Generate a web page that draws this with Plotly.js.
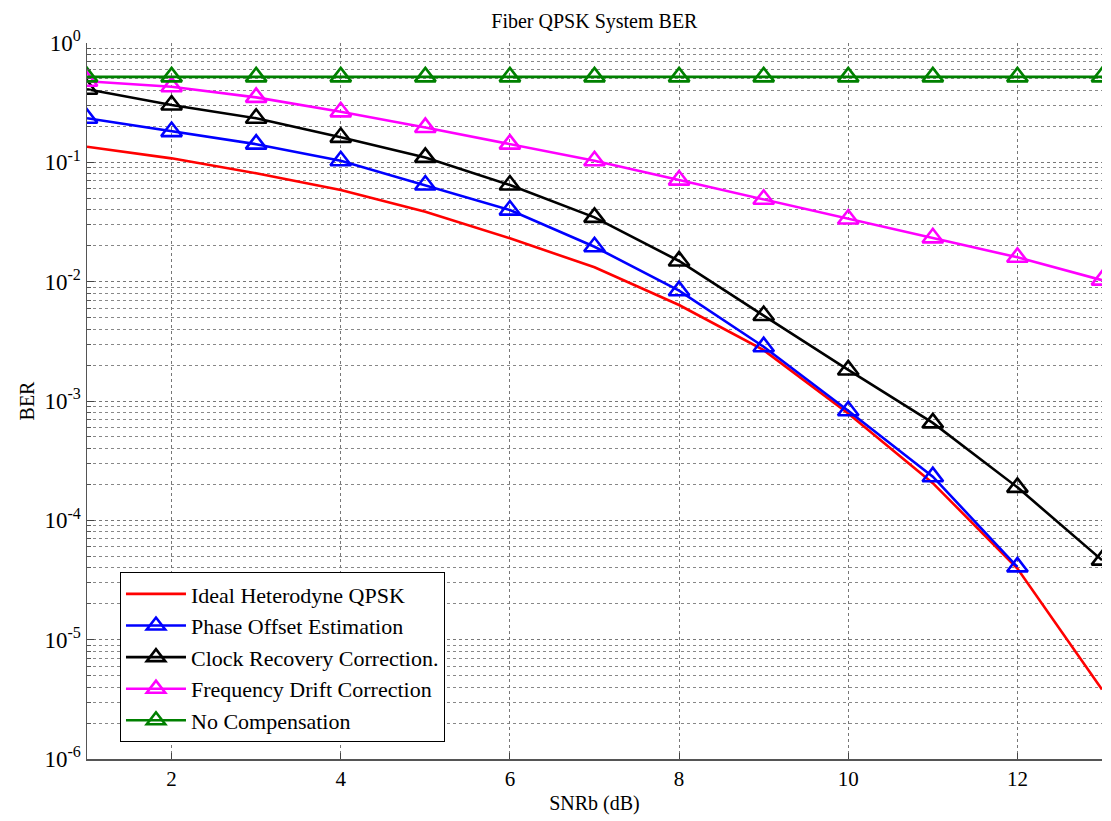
<!DOCTYPE html>
<html>
<head>
<meta charset="utf-8">
<script src="https://cdn.plot.ly/plotly-3.0.1.min.js"></script>
<style>html,body{margin:0;padding:0;background:#fff;}#chart{width:1111px;height:821px;}</style>
</head>
<body>
<div id="chart"></div>
<script>
const snr = [1,2,3,4,5,6,7,8,9,10,11,12,13];
const snrPhase = [1,2,3,4,5,6,7,8,9,10,11,12];
const berIdeal = [0.135,0.108,0.081,0.0586,0.0385,0.0231,0.0132,0.00637,0.00267,7.87e-4,2.05e-4,3.95e-5,3.83e-6];
const berPhase = [0.234,0.181,0.142,0.103,0.0645,0.0398,0.0196,0.0084,0.00285,8.28e-4,2.32e-4,4.07e-5];
const berClock = [0.41,0.302,0.234,0.162,0.110,0.0645,0.0346,0.0149,0.0052,0.00182,6.56e-4,1.89e-4,4.64e-5];
const berFreq = [0.478,0.43,0.35,0.265,0.196,0.142,0.103,0.071,0.049,0.0335,0.0233,0.016,0.0103];
const berNone = [0.52,0.52,0.52,0.52,0.52,0.52,0.52,0.52,0.52,0.52,0.52,0.52,0.52];
const names = ['Ideal Heterodyne QPSK','Phase Offset Estimation','Clock Recovery Correction.','Frequency Drift Correction','No Compensation'];
const yTickVals = [1e-6,1e-5,1e-4,1e-3,1e-2,1e-1,1];
const yTickText = ['10<sup>-6</sup>','10<sup>-5</sup>','10<sup>-4</sup>','10<sup>-3</sup>','10<sup>-2</sup>','10<sup>-1</sup>','10<sup>0</sup>'];
const xTickVals = [2,4,6,8,10,12];

const mk = (c) => ({symbol:'triangle-up-open', size:18, color:c, line:{width:2.6, color:c}});
const traces = [
  {x:snr, y:berIdeal, name:names[0], mode:'lines', line:{color:'#ff0000', width:2.6}},
  {x:snrPhase, y:berPhase, name:names[1], mode:'lines+markers', line:{color:'#0000ff', width:2.6}, marker:mk('#0000ff')},
  {x:snr, y:berClock, name:names[2], mode:'lines+markers', line:{color:'#000000', width:2.6}, marker:mk('#000000')},
  {x:snr, y:berFreq, name:names[3], mode:'lines+markers', line:{color:'#ff00ff', width:2.6}, marker:mk('#ff00ff')},
  {x:snr, y:berNone, name:names[4], mode:'lines+markers', line:{color:'#008000', width:2.6}, marker:mk('#008000')}
];
const font = 'Liberation Serif';
const layout = {
  width:1111, height:821,
  margin:{l:87, r:9, t:43, b:62},
  paper_bgcolor:'#fff', plot_bgcolor:'#fff',
  font:{family:font, size:20, color:'#000'},
  title:{text:'Fiber QPSK System BER', font:{family:font, size:20, color:'#000'}, x:0.535, xanchor:'center', y:0.975, yanchor:'middle'},
  showlegend:true,
  legend:{x:0.0325, y:0.261, xanchor:'left', yanchor:'top', bgcolor:'#fff', bordercolor:'#000', borderwidth:1,
          font:{family:font, size:22, color:'#000'}, tracegroupgap:0, itemwidth:60},
  xaxis:{range:[1,13], tickvals:xTickVals, ticks:'inside', ticklen:6, tickcolor:'#444',
         showline:true, linecolor:'#555', linewidth:1.5, mirror:false, zeroline:false,
         showgrid:true, gridcolor:'#777', griddash:'dot', gridwidth:1,
         tickfont:{family:font, size:21},
         title:{text:'SNRb (dB)', font:{family:font, size:20}, standoff:6}},
  yaxis:{type:'log', range:[-6,0], tickvals:yTickVals, ticktext:yTickText, ticks:'inside', ticklen:7, tickcolor:'#444',
         showline:true, linecolor:'#555', linewidth:1.5, mirror:false, zeroline:false,
         showgrid:true, gridcolor:'#777', griddash:'dot', gridwidth:1,
         minor:{showgrid:true, gridcolor:'#888', griddash:'dot', gridwidth:1, ticks:'inside', ticklen:4, tickcolor:'#555', dtick:'D1'},
         tickfont:{family:font, size:23},
         title:{text:'BER', font:{family:font, size:20}, standoff:4}}
};
Plotly.newPlot('chart', traces, layout, {displayModeBar:false, staticPlot:true});
</script>
</body>
</html>
